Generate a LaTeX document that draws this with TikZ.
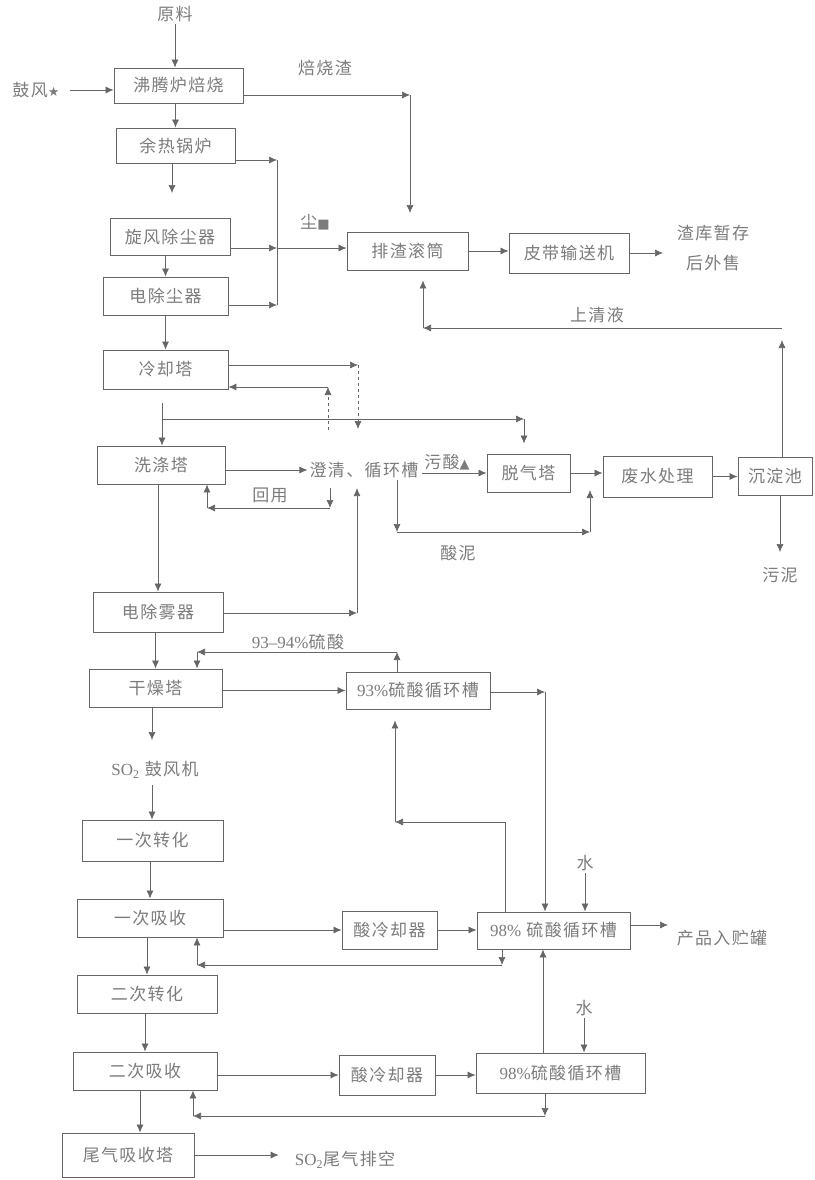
\documentclass[tikz,border=0pt]{standalone}
\usepackage{fontspec}
\setmainfont{Noto Sans CJK SC}[LetterSpace=8]
\newfontfamily\lat{Liberation Serif}
\newfontfamily\sym{DejaVu Sans}
\newcommand\smsym[1]{{\fontsize{13}{14}\selectfont\sym #1}}
\usetikzlibrary{arrows.meta,calc}
\definecolor{ln}{HTML}{666666}
\definecolor{tx}{HTML}{7C7C7C}
\begin{document}
\begin{tikzpicture}[x=1pt,y=-1pt,
  every node/.style={font=\fontsize{17}{20}\selectfont, text=tx},
  box/.style={draw=ln, line width=0.8pt, inner sep=0pt},
  lbl/.style={inner sep=2pt},
  arr/.style={draw=ln, line width=0.7pt, -{Latex[length=8pt,width=7pt]}},
  plain/.style={draw=ln, line width=0.7pt}]
\fill[white] (0,0) rectangle (814,1180);
\useasboundingbox (0,0) rectangle (814,1180);

% ---------- boxes ----------
\node[box, minimum width=129pt, minimum height=35pt] (fb) at (178.5,85.5) {沸腾炉焙烧};
\node[box, minimum width=119pt, minimum height=35pt] (yr) at (175.5,145.5) {余热锅炉};
\node[box, minimum width=120pt, minimum height=37pt] (xf) at (170,236.5) {旋风除尘器};
\node[box, minimum width=125pt, minimum height=38pt] (dc) at (165.5,296) {电除尘器};
\node[box, minimum width=121pt, minimum height=38pt] (pz) at (407.5,251) {排渣滚筒};
\node[box, minimum width=120pt, minimum height=40pt] (pd) at (569,253) {皮带输送机};
\node[box, minimum width=125pt, minimum height=39pt] (lq) at (165.5,369.5) {冷却塔};
\node[box, minimum width=128pt, minimum height=38pt] (xd) at (161,465) {洗涤塔};
\node[box, minimum width=83pt, minimum height=38pt] (tq) at (528.5,473) {脱气塔};
\node[box, minimum width=109pt, minimum height=41pt] (fs) at (657.5,476.5) {废水处理};
\node[box, minimum width=74pt, minimum height=38pt] (cd) at (775,476) {沉淀池};
\node[box, minimum width=130pt, minimum height=40pt] (dw) at (158,612) {电除雾器};
\node[box, minimum width=133pt, minimum height=38pt] (gz) at (155.5,688) {干燥塔};
\node[box, minimum width=144pt, minimum height=37pt] (t93) at (418,690.5) {{\lat 93\%}硫酸循环槽};
\node[box, minimum width=141pt, minimum height=41pt] (z1) at (152.5,840.5) {一次转化};
\node[box, minimum width=146pt, minimum height=38pt] (x1) at (150,918) {一次吸收};
\node[box, minimum width=95pt, minimum height=38pt] (lj1) at (389.5,930) {酸冷却器};
\node[box, minimum width=153pt, minimum height=37pt] (t98a) at (553.5,930.5) {{\lat 98\%} 硫酸循环槽};
\node[box, minimum width=140pt, minimum height=38pt] (z2) at (147,994) {二次转化};
\node[box, minimum width=144pt, minimum height=38pt] (x2) at (145,1071) {二次吸收};
\node[box, minimum width=96pt, minimum height=40pt] (lj2) at (387,1075) {酸冷却器};
\node[box, minimum width=169pt, minimum height=40pt] (t98b) at (560.5,1073) {{\lat 98\%}硫酸循环槽};
\node[box, minimum width=132pt, minimum height=44pt] (wq) at (128,1155) {尾气吸收塔};

% ---------- free labels ----------
\node[lbl] (yl) at (175,14) {原料};
\node[lbl] (gf) at (36,90) {鼓风\smsym{★}};
\node[lbl] (bsz) at (325,68) {焙烧渣};
\node[lbl] (ch) at (315,222) {尘\smsym{■}};
\node[lbl] (zk1) at (713,233) {渣库暂存};
\node[lbl] (zk2) at (713,263) {后外售};
\node[lbl] (sq) at (597,315) {上清液};
\node[lbl] (cq) at (364,470) {澄清、循环槽};
\node[lbl] (hy) at (270,495) {回用};
\node[lbl] (ws) at (447,462) {污酸\smsym{▲}};
\node[lbl] (sn) at (458,553) {酸泥};
\node[lbl] (wn) at (780,575) {污泥};
\node[lbl] (ls) at (298,642) {{\lat 93–94\%}硫酸};
\node[lbl] (sg) at (155,770) {{\lat SO\textsubscript{2}} 鼓风机};
\node[lbl] (sw1) at (585,863) {水};
\node[lbl] (sw2) at (584,1008) {水};
\node[lbl] (cp) at (722,938) {产品入贮罐};
\node[lbl] (pk) at (345,1160) {{\lat SO\textsubscript{2}}尾气排空};

% ---------- coordinates ----------
\coordinate (c1) at (410,95);
\coordinate (c2) at (410,213);
\coordinate (c3) at (172,193);
\coordinate (j1) at (277,160);
\coordinate (j2) at (277,248);
\coordinate (j3) at (277,305);
\coordinate (t1) at (663,253);
\coordinate (k1) at (358,365);
\coordinate (k2) at (358,429);
\coordinate (k3) at (328,430);
\coordinate (k4) at (328,387);
\coordinate (m1) at (162,403);
\coordinate (m2) at (162,419);
\coordinate (m3) at (524,419);
\coordinate (n1) at (330,488);
\coordinate (n2) at (330,508);
\coordinate (n3) at (207,508);
\coordinate (p1) at (357,613);
\coordinate (q1) at (397,532);
\coordinate (q2) at (590,532);
\coordinate (q3) at (590,490);
\coordinate (r1) at (422,473);
\coordinate (s0) at (780,552);
\coordinate (s1) at (782,340);
\coordinate (s2) at (782,328);
\coordinate (s3) at (423,328);
\coordinate (u1) at (397,652);
\coordinate (u2) at (197,652);
\coordinate (v1) at (545,692);
\coordinate (v2) at (505,822);
\coordinate (v3) at (395,822);
\coordinate (w1) at (152,740);
\coordinate (w2) at (152,785);
\coordinate (y1) at (668,925);
\coordinate (a1) at (502,965);
\coordinate (a2) at (197,965);
\coordinate (b1) at (543,0);
\coordinate (b2) at (545,1116);
\coordinate (b3) at (193,1116);
\coordinate (e1) at (140,0);

% ---------- connectors ----------
\draw[arr] (yl.south) -- (yl.south |- fb.north);
\draw[arr, shorten <=8pt] (gf.east) -- (gf.east -| fb.west);
\draw[arr] (fb.east |- c1) -- (c1);
\draw[arr] (c1) -- (c2);
\draw[arr] (fb.south -| yr) -- (yr.north);
\draw[arr] (yr.south -| c3) -- (c3);
\draw[plain] (j1) -- (j3);
\draw[arr] (yr.east |- j1) -- (j1);
\draw[arr] (xf.east |- j2) -- (j2);
\draw[arr] (j2) -- (j2 -| pz.west);
\draw[arr] (dc.east |- j3) -- (j3);
\draw[arr] (xf.south -| dc) -- (dc.north);
\draw[arr] (dc.south -| lq) -- (lq.north);
\draw[arr] (pz.east) -- (pz.east -| pd.west);
\draw[arr] (pd.east |- t1) -- (t1);
\draw[arr] (lq.east |- k1) -- (k1);
\draw[arr, dashed] (k1) -- (k2);
\draw[arr, dashed] (k3) -- (k4);
\draw[arr] (k4) -- (k4 -| lq.east);
\draw[arr] (m1) -- (m1 |- xd.north);
\draw[arr] (m2) -- (m3);
\draw[arr] (m3) -- ($(m3 |- tq.north)+(0,-10)$);
\draw[arr] (xd.east |- cq) -- (cq.west);
\draw[arr] (n1) -- (n2);
\draw[arr] (n2) -- (n3);
\draw[arr] (n3) -- (n3 |- xd.south);
\draw[arr] (dw.east |- p1) -- (p1);
\draw[arr] (p1) -- ($(p1 |- cq.south)+(0,8)$);
\draw[arr] (q1 |- cq.south) -- (q1);
\draw[arr] (q1) -- (q2);
\draw[arr] (q2) -- (q3);
\draw[arr] (r1) -- (r1 -| tq.west);
\draw[arr] (tq.east) -- (tq.east -| fs.west);
\draw[arr] (fs.east) -- (fs.east -| cd.west);
\draw[arr] (cd.south -| s0) -- (s0);
\draw[arr] (cd.north -| s1) -- (s1);
\draw[arr] (s2) -- (s3);
\draw[arr] (s3) -- ($(s3 |- pz.south)+(0,10)$);
\draw[arr] (xd.south -| dw) -- (dw.north);
\draw[arr] (dw.south -| gz) -- (gz.north);
\draw[arr] (t93.north -| u1) -- (u1);
\draw[arr] (u1) -- (u2);
\draw[arr] (u2) -- (u2 |- gz.north);
\draw[arr] (gz.east |- t93) -- (t93.west);
\draw[arr] (t93.east |- v1) -- (v1);
\draw[arr] (v1) -- (v1 |- t98a.north);
\draw[plain] (t98a.north -| v2) -- (v2);
\draw[arr] (v2) -- (v3);
\draw[arr] (v3) -- ($(v3 |- t93.south)+(0,11)$);
\draw[arr] (gz.south -| w1) -- (w1);
\draw[arr] (w2) -- (w2 |- z1.north);
\draw[arr] (z1.south -| x1) -- (x1.north);
\draw[arr] (x1.east |- lj1) -- (lj1.west);
\draw[arr] (lj1.east) -- (lj1.east -| t98a.west);
\draw[arr] (t98a.east |- y1) -- (y1);
\draw[arr] (sw1.south) -- (sw1.south |- t98a.north);
\draw[arr] (t98a.south -| a1) -- (a1);
\draw[arr] (a1) -- (a2);
\draw[arr] (a2) -- (a2 |- x1.south);
\draw[arr] (x1.south -| z2) -- (z2.north);
\draw[arr] (z2.south -| x2) -- (x2.north);
\draw[arr] (x2.east |- lj2) -- (lj2.west);
\draw[arr] (lj2.east) -- (lj2.east -| t98b.west);
\draw[arr] (t98b.north -| b1) -- (t98a.south -| b1);
\draw[arr] (sw2.south) -- (sw2.south |- t98b.north);
\draw[arr] (t98b.south -| b2) -- (b2);
\draw[arr] (b2) -- (b3);
\draw[arr] (b3) -- (b3 |- x2.south);
\draw[arr] (x2.south -| e1) -- (wq.north -| e1);
\draw[arr, shorten >=14pt] (wq.east) -- (wq.east -| pk.west);
\end{tikzpicture}
\end{document}
